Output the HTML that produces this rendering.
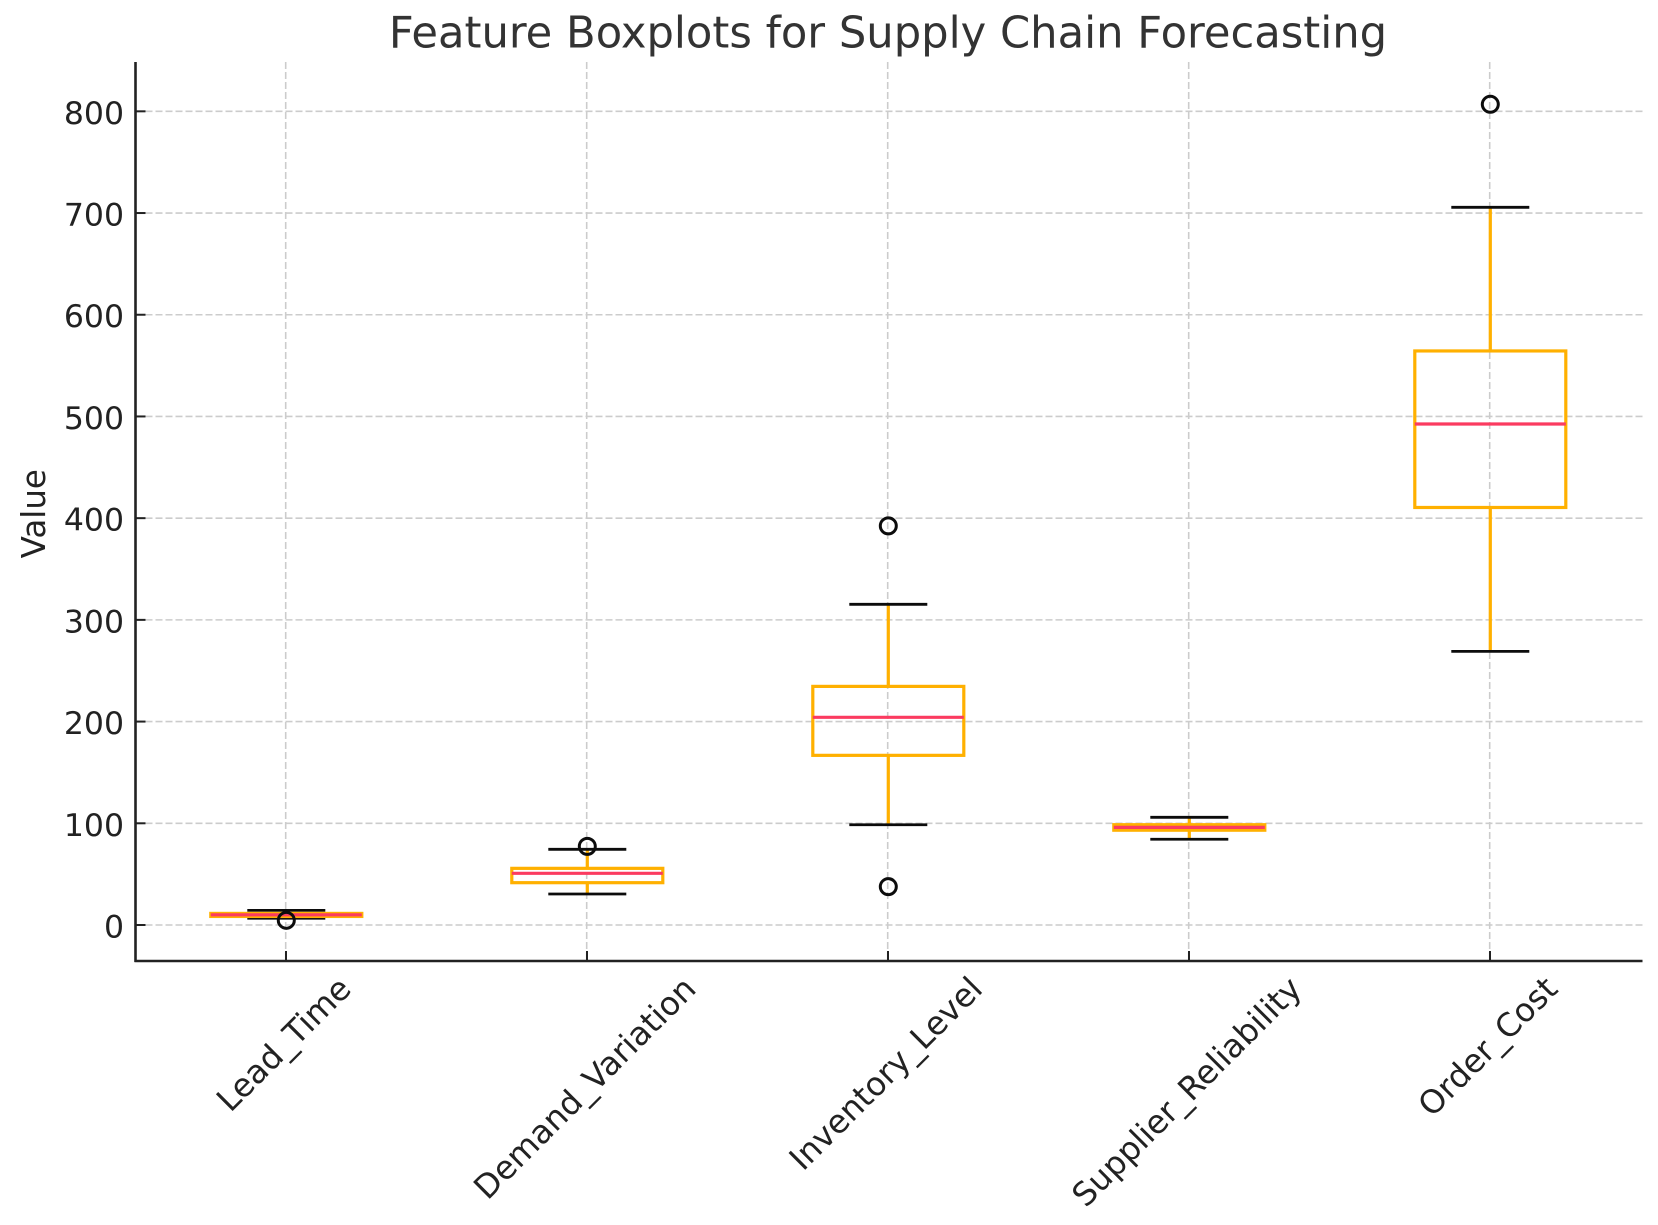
<!DOCTYPE html>
<html lang="en">
<head>
<meta charset="utf-8">
<title>Feature Boxplots for Supply Chain Forecasting</title>
<style>
html,body{margin:0;padding:0;background:#fff;width:1658px;height:1225px;overflow:hidden}
svg{display:block}
text{font-family:"DejaVu Sans","Liberation Sans",sans-serif}
</style>
</head>
<body>
<svg id="chart" xmlns="http://www.w3.org/2000/svg" width="1658" height="1225" viewBox="0 0 1658 1225"></svg>
<script>
const categories = ["Lead_Time", "Demand_Variation", "Inventory_Level", "Supplier_Reliability", "Order_Cost"];
const whiskerLow = [6.6, 30.5, 98.6, 84.3, 269];
const q1 = [8.4, 41.6, 166.8, 93.2, 410.5];
const medians = [10, 50.8, 204.2, 96, 492.6];
const q3 = [11.4, 55.7, 234.6, 98.6, 564.4];
const whiskerHigh = [14.4, 74.4, 315.3, 105.9, 705.6];
const outliers = [[4.6], [77.3], [37.7, 392.4], [], [806.9]];
const yTicks = [0, 100, 200, 300, 400, 500, 600, 700, 800];

const NS = "http://www.w3.org/2000/svg";
const svg = document.getElementById("chart");
const plotLeft = 135.5, plotRight = 1642.5, plotTop = 62, plotBottom = 961;
const y0Px = 925, pxPerUnit = 1.0171, x1Px = 286, xStep = 301;
const xScale = function (pos) { return x1Px + xStep * pos; };
const yScale = function (v) { return y0Px - pxPerUnit * v; };
const boxHalf = 75.5, capHalf = 39;

function makeLine(x1, y1, x2, y2, stroke, width, dash) {
  const el = document.createElementNS(NS, "line");
  el.setAttribute("x1", x1);
  el.setAttribute("y1", y1);
  el.setAttribute("x2", x2);
  el.setAttribute("y2", y2);
  el.setAttribute("stroke", stroke);
  el.setAttribute("stroke-width", width);
  if (dash) el.setAttribute("stroke-dasharray", dash);
  svg.appendChild(el);
  return el;
}
function makeText(content, x, y, size, fill, anchor) {
  const el = document.createElementNS(NS, "text");
  el.textContent = content;
  el.setAttribute("x", x);
  el.setAttribute("y", y);
  el.setAttribute("font-size", size);
  el.setAttribute("fill", fill);
  el.setAttribute("text-anchor", anchor);
  svg.appendChild(el);
  return el;
}

/* grid */
yTicks.forEach(function (t) {
  const g = makeLine(plotLeft, yScale(t), plotRight, yScale(t), "#cccccc", 1.6, "7 3");
  
  
});
categories.forEach(function (c, i) {
  const g = makeLine(xScale(i) - 0.3, plotTop, xScale(i) - 0.3, plotBottom, "#cccccc", 1.6, "7 3");
  
  
});

/* boxplots */
const boxColor = "#ffb000", medianColor = "#fb3b60", capColor = "#0c0c0c";
categories.forEach(function (c, i) {
  const x = xScale(i) + 0.3;
  const wl = makeLine(x, yScale(q1[i]), x, yScale(whiskerLow[i]), boxColor, 3.2);
  
  
  const wh = makeLine(x, yScale(q3[i]), x, yScale(whiskerHigh[i]), boxColor, 3.2);
  
  
  const cl = makeLine(x - capHalf, yScale(whiskerLow[i]), x + capHalf, yScale(whiskerLow[i]), capColor, 2.8);
  
  
  const ch = makeLine(x - capHalf, yScale(whiskerHigh[i]), x + capHalf, yScale(whiskerHigh[i]), capColor, 2.8);
  
  
  const rect = document.createElementNS(NS, "rect");
  rect.setAttribute("x", x - boxHalf);
  rect.setAttribute("y", yScale(q3[i]));
  rect.setAttribute("width", boxHalf * 2);
  rect.setAttribute("height", yScale(q1[i]) - yScale(q3[i]));
  rect.setAttribute("fill", "none");
  rect.setAttribute("stroke", boxColor);
  rect.setAttribute("stroke-width", 3.2);
  
  
  svg.appendChild(rect);
  const m = makeLine(x - boxHalf, yScale(medians[i]), x + boxHalf, yScale(medians[i]), medianColor, 3.2);
  
  
  outliers[i].forEach(function (v) {
    const o = document.createElementNS(NS, "circle");
    o.setAttribute("cx", x);
    o.setAttribute("cy", yScale(v));
    o.setAttribute("r", 8);
    o.setAttribute("fill", "none");
    o.setAttribute("stroke", "#0c0c0c");
    o.setAttribute("stroke-width", 3);
    
    
    svg.appendChild(o);
  });
});

/* spines */
const spineLeft = makeLine(plotLeft, plotTop, plotLeft, plotBottom + 1, "#222222", 2.6);


const spineBottom = makeLine(plotLeft - 1, plotBottom, plotRight, plotBottom, "#222222", 2.6);



/* y ticks */
yTicks.forEach(function (t) {
  const tk = makeLine(plotLeft, yScale(t), plotLeft + 10, yScale(t), "#222222", 2);
  
  
  const lb = makeText(String(t), 124, yScale(t) + 12.5, 31.5, "#222222", "end");
  
  
});

/* x ticks and labels */
categories.forEach(function (c, i) {
  const x = xScale(i);
  const tk = makeLine(x, plotBottom, x, plotBottom - 10, "#222222", 2);
  
  
  const lb = makeText(c, x - 2.5, 0, 32.4, "#222222", "middle");
  
  
  const len = lb.getComputedTextLength();
  const cy = 972 + (len + 30) * Math.SQRT1_2 / 2;
  lb.setAttribute("y", cy + 11.5);
  lb.setAttribute("transform", "rotate(-45 " + (x - 2.5) + " " + cy + ")");
});

/* titles */
const title = makeText("Feature Boxplots for Supply Chain Forecasting", 888, 47.5, 43.25, "#333333", "middle");


const yTitle = makeText("Value", 45, 513.7, 32.5, "#222222", "middle");
yTitle.setAttribute("transform", "rotate(-90 45 513.7)");


</script>
</body>
</html>
